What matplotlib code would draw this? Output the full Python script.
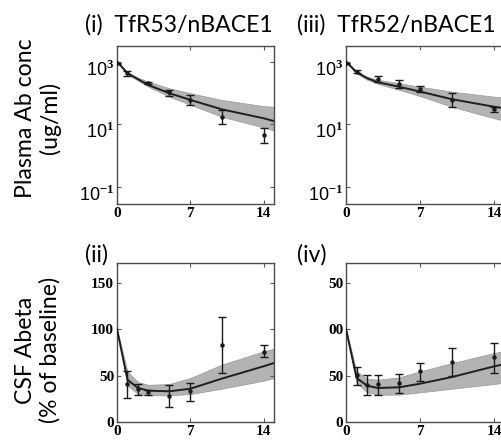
import numpy as np
import matplotlib
matplotlib.use("Agg")
import matplotlib.pyplot as plt
from matplotlib.transforms import ScaledTranslation

# mathtext: sans "10" with bold serif exponent, like the MATLAB export
plt.rcParams['mathtext.fontset'] = 'custom'
plt.rcParams['mathtext.rm'] = 'Liberation Sans'
plt.rcParams['mathtext.bf'] = 'Liberation Serif:bold'

# --- observed data (days, value, error bar limits) ---
obs_t_top = [0, 1, 3, 5, 7, 10, 14]
tfr53_plasma = [890, 427, 204, 105, 60, 16.6, 4.4]
tfr53_plasma_hi = [930, 500, 224, 126, 87, 29, 7.4]
tfr53_plasma_lo = [850, 355, 186, 81, 42, 10, 2.6]

tfr52_plasma = [890, 480, 282, 195, 132, 60, 30]
tfr52_plasma_hi = [930, 525, 347, 263, 166, 102, 36]
tfr52_plasma_lo = [850, 437, 229, 148, 105, 35, 24]

obs_t_bot = [1, 2, 3, 5, 7, 10, 14]
tfr53_csf = [41, 35.5, 32, 27.6, 33, 82.4, 75.3]
tfr53_csf_hi = [54.5, 41, 34.7, 39.4, 42, 112.6, 82.4]
tfr53_csf_lo = [25.8, 29, 28.7, 15.8, 23, 52.7, 69.6]

tfr52_csf = [50.2, 39.4, 40.9, 41.9, 54.5, 64.2, 69.6]
tfr52_csf_hi = [58.8, 50.9, 50.9, 51.6, 63.4, 79.6, 84.9]
tfr52_csf_lo = [40.1, 28.7, 29.4, 31.2, 44.4, 49.1, 52.7]

# --- model fit and band ---
model_t = [0, 1, 2, 3, 5, 7, 10, 14, 15]
tfr53_plasma_fit = [1000, 427, 275, 178, 98, 60, 30, 15.5, 12.6]
tfr53_plasma_up = [1050, 457, 310, 229, 141, 98, 60, 38, 36]
tfr53_plasma_dn = [955, 398, 250, 158, 76, 42, 17.4, 7.9, 6.3]

tfr52_plasma_fit = [1000, 457, 295, 219, 158, 110, 63, 36, 32]
tfr52_plasma_up = [1050, 490, 331, 263, 204, 158, 110, 76, 71]
tfr52_plasma_dn = [955, 427, 263, 195, 126, 79, 36, 15.5, 12.6]

tfr53_csf_fit = [100, 45.5, 36.6, 33.7, 33, 35.8, 46.6, 59.9, 63.4]
tfr53_csf_up = [100, 54.5, 43, 40, 40.9, 47.3, 61.6, 76, 78.8]
tfr53_csf_dn = [100, 39.4, 30, 28.7, 28.7, 30, 35.8, 44.4, 47.3]

tfr52_csf_fit = [100, 47.3, 39, 36.6, 37.3, 41.2, 48.4, 59.9, 62.4]
tfr52_csf_up = [100, 54.5, 46.6, 45.5, 48, 54.5, 63.4, 74.2, 76.7]
tfr52_csf_dn = [100, 41.9, 31.9, 29.4, 29.4, 31.9, 35.8, 40.9, 42.3]

x_ticks = [0, 7, 14]
log_ticks = [0.1, 10, 1000]
log_labels = [r'$\mathrm{10}^{\mathbf{-1}}$', r'$\mathrm{10}^{\mathbf{1}}$', r'$\mathrm{10}^{\mathbf{3}}$']
lin_ticks = [0, 50, 100, 150]
lin_labels_left = ['0', '50', '100', '150']
lin_labels_right = ['0', '50', '00', '50']  # left digit is cropped in the original

W, H = 502, 441
fig = plt.figure(figsize=(W / 100, H / 100), dpi=100)

def px_axes(left, top, right, bottom):
    return fig.add_axes([left / W, (H - bottom) / H, (right - left) / W, (bottom - top) / H])

serif_bold = dict(family='Liberation Serif', weight='bold', size=11)

def draw(ax, t, y, lo, hi, fit, up, dn):
    ax.fill_between(model_t, dn, up, color='0.7', lw=0.5, edgecolor='0.6', zorder=1)
    ax.plot(model_t, fit, color='0.12', lw=1.4, zorder=3)
    y = np.array(y)
    yerr = [y - np.array(lo), np.array(hi) - y]
    ax.errorbar(t, y, yerr=yerr, fmt='o', ms=2.2, color='0.1', ecolor='0.1',
                elinewidth=1.0, capsize=2.6, capthick=1.0, zorder=4)
    ax.set_xlim(0, 15)
    ax.set_xticks(x_ticks)
    ax.set_xticklabels([str(v) for v in x_ticks], fontdict=serif_bold)
    ax.tick_params(direction='in', length=3, width=0.8, top=True, right=True,
                   color='0.35', pad=2)
    for s in ax.spines.values():
        s.set_color('0.3')
        s.set_linewidth(1.0)

# top panels: plasma antibody, log scale
for left, right, data in [
    (117, 274, (tfr53_plasma, tfr53_plasma_lo, tfr53_plasma_hi,
                tfr53_plasma_fit, tfr53_plasma_up, tfr53_plasma_dn)),
    (346, 505, (tfr52_plasma, tfr52_plasma_lo, tfr52_plasma_hi,
                tfr52_plasma_fit, tfr52_plasma_up, tfr52_plasma_dn)),
]:
    ax = px_axes(left, 46, right, 204)
    ax.set_yscale('log')
    draw(ax, obs_t_top, *data)
    ax.set_ylim(10 ** -1.55, 10 ** 3.5)
    ax.set_yticks(log_ticks)
    ax.set_yticklabels(log_labels, fontsize=13)
    ax.yaxis.set_minor_locator(matplotlib.ticker.NullLocator())
    # MATLAB puts the exponent at the tick, the base sits below it
    shift = ScaledTranslation(0, -6 / 100, fig.dpi_scale_trans)
    for lab in ax.get_yticklabels():
        lab.set_transform(lab.get_transform() + shift)

# bottom panels: CSF Abeta, linear
for left, right, labels, data in [
    (117, 274, lin_labels_left, (tfr53_csf, tfr53_csf_lo, tfr53_csf_hi,
                                 tfr53_csf_fit, tfr53_csf_up, tfr53_csf_dn)),
    (346, 505, lin_labels_right, (tfr52_csf, tfr52_csf_lo, tfr52_csf_hi,
                                  tfr52_csf_fit, tfr52_csf_up, tfr52_csf_dn)),
]:
    ax = px_axes(left, 263, right, 422)
    draw(ax, obs_t_bot, *data)
    ax.set_ylim(0, 171)
    ax.set_yticks(lin_ticks)
    ax.set_yticklabels(labels, fontdict=serif_bold)

sans = 'Lato'
fs = 16.6
fig.text(85 / W, 1 - 25 / H, '(i)  TfR53/nBACE1', family=sans, size=fs, va='center')
fig.text(297 / W, 1 - 25 / H, '(iii)  TfR52/nBACE1', family=sans, size=fs, va='center')
fig.text(85 / W, 1 - 255 / H, '(ii)', family=sans, size=fs, va='center')
fig.text(297 / W, 1 - 255 / H, '(iv)', family=sans, size=fs, va='center')

fig.text(38 / W, 1 - 118 / H, 'Plasma Ab conc\n(ug/ml)', family=sans, size=fs,
         rotation=90, ha='center', va='center', linespacing=1.2, multialignment='center')
fig.text(38 / W, 1 - 350 / H, 'CSF Abeta\n(% of baseline)', family=sans, size=fs,
         rotation=90, ha='center', va='center', linespacing=1.2, multialignment='center')

fig.savefig('out.png', dpi=100)
